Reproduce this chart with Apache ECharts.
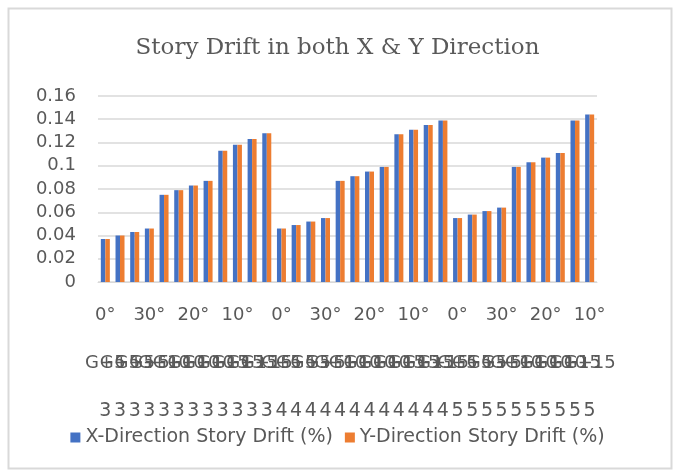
<!DOCTYPE html>
<html>
<head>
<meta charset="utf-8">
<script src="https://cdn.jsdelivr.net/npm/echarts@6/dist/echarts.min.js"></script>
<style>
  html, body { margin: 0; padding: 0; background: #fff; }
  #chart { width: 675px; height: 471px; }
</style>
</head>
<body>
<div id="chart"></div>
<script>
// category rows (Excel multi-level axis, each label drawn at every bar)
var angleLabels = ['0°','10°','20°','30°','0°','10°','20°','30°','0°','10°','20°','30°',
                   '0°','10°','20°','30°','0°','10°','20°','30°','0°','10°','20°','30°',
                   '0°','10°','20°','30°','0°','10°','20°','30°','0°','10°'];
var storyLabels = ['G+5','G+5','G+5','G+5','G+10','G+10','G+10','G+10','G+15','G+15','G+15','G+15',
                   'G+5','G+5','G+5','G+5','G+10','G+10','G+10','G+10','G+15','G+15','G+15','G+15',
                   'G+5','G+5','G+5','G+5','G+10','G+10','G+10','G+10','G+15','G+15'];
var bayLabels = ['3','3','3','3','3','3','3','3','3','3','3','3',
                 '4','4','4','4','4','4','4','4','4','4','4','4',
                 '5','5','5','5','5','5','5','5','5','5'];

var xDrift = [0.037, 0.040, 0.043, 0.046, 0.075, 0.079, 0.083, 0.087, 0.113, 0.118, 0.123, 0.128,
              0.046, 0.049, 0.052, 0.055, 0.087, 0.091, 0.095, 0.099, 0.127, 0.131, 0.135, 0.139,
              0.055, 0.058, 0.061, 0.064, 0.099, 0.103, 0.107, 0.111, 0.139, 0.144];
var yDrift = [0.037, 0.040, 0.043, 0.046, 0.075, 0.079, 0.083, 0.087, 0.113, 0.118, 0.123, 0.128,
              0.046, 0.049, 0.052, 0.055, 0.087, 0.091, 0.095, 0.099, 0.127, 0.131, 0.135, 0.139,
              0.055, 0.058, 0.061, 0.064, 0.099, 0.103, 0.107, 0.111, 0.139, 0.144];

var seriesNames = ['X-Direction Story Drift (%)', 'Y-Direction Story Drift (%)'];

(function() {
  var ink = '#595959';
  var rule = '#d9d9d9';
  var font = 'DejaVu Sans, sans-serif';

  function catAxis(data, offset, interval, show, size) {
    return {
      type: 'category',
      data: data,
      position: 'bottom',
      offset: offset,
      axisLine: { show: show, lineStyle: { color: rule } },
      axisTick: { show: false },
      axisLabel: {
        interval: interval,
        color: ink,
        fontFamily: font,
        fontSize: size,
        margin: 24,
        hideOverlap: false
      }
    };
  }

  var chart = echarts.init(document.getElementById('chart'), null, { renderer: 'canvas' });
  chart.setOption({
    animation: false,
    backgroundColor: '#fff',
    title: {
      text: 'Story Drift in both X & Y Direction',
      left: 'center',
      top: 32,
      textStyle: { color: ink, fontFamily: 'DejaVu Serif, serif', fontWeight: 'normal', fontSize: 23 }
    },
    legend: {
      bottom: 19,
      left: 'center',
      itemWidth: 10,
      itemHeight: 10,
      itemGap: 12,
      icon: 'rect',
      textStyle: { color: ink, fontFamily: font, fontSize: 19 },
      data: seriesNames
    },
    graphic: [{
      type: 'rect',
      shape: { x: 8.5, y: 8.5, width: 663, height: 460 },
      style: { fill: 'none', stroke: rule, lineWidth: 2 }
    }],
    grid: { left: 98, right: 78, top: 96, bottom: 189 },
    xAxis: [
      catAxis(angleLabels, 0, 2, true, 18),
      catAxis(storyLabels, 48, 0, false, 18),
      catAxis(bayLabels, 96, 0, false, 19)
    ],
    yAxis: {
      type: 'value',
      min: 0,
      max: 0.16,
      interval: 0.02,
      axisLine: { show: false },
      axisTick: { show: false },
      splitLine: { lineStyle: { color: rule, width: 1.5 } },
      axisLabel: {
        color: ink,
        fontFamily: font,
        fontSize: 18,
        margin: 22,
        formatter: function(v) { return String(+v.toFixed(2)); }
      }
    },
    series: [
      {
        name: seriesNames[0],
        type: 'bar',
        xAxisIndex: 0,
        data: xDrift,
        barWidth: 4.5,
        barGap: '0%',
        itemStyle: { color: '#4472C4' }
      },
      {
        name: seriesNames[1],
        type: 'bar',
        xAxisIndex: 0,
        data: yDrift,
        barWidth: 4.5,
        barGap: '0%',
        itemStyle: { color: '#ED7D31' }
      }
    ]
  });
})();
</script>
</body>
</html>
